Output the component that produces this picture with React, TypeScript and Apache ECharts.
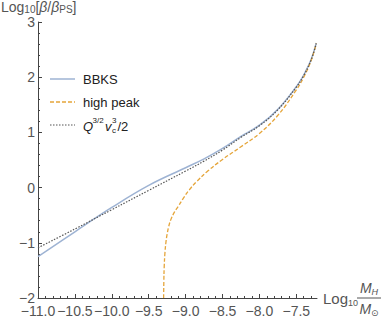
import React, { useEffect, useRef } from 'react';
import * as echarts from 'echarts';

const xMajor = [-11, -10.5, -10, -9.5, -9, -8.5, -8, -7.5];
const yMajor = [-2, -1, 0, 1, 2, 3];
const seriesNames = ['BBKS', 'high peak', 'Q'];

const bbks: [number, number][] = [
  [-11.0, -1.25], [-10.5, -0.8], [-10.0, -0.36], [-9.5, 0.04], [-9.0, 0.36],
  [-8.75, 0.52], [-8.5, 0.71], [-8.25, 0.93], [-8.0, 1.13], [-7.75, 1.42],
  [-7.5, 1.83], [-7.4, 2.04], [-7.3, 2.32], [-7.23, 2.62],
];
const highPeak: [number, number][] = [
  [-9.298, -2.0], [-9.295, -1.69], [-9.29, -1.43], [-9.28, -1.18], [-9.265, -0.97],
  [-9.25, -0.84], [-9.23, -0.71], [-9.2, -0.58], [-9.15, -0.44], [-9.1, -0.34],
  [-9.03, -0.19], [-8.95, -0.04], [-8.85, 0.11], [-8.7, 0.3], [-8.5, 0.51],
  [-8.25, 0.74], [-8.0, 0.98], [-7.75, 1.31], [-7.5, 1.77], [-7.4, 2.0],
  [-7.3, 2.3], [-7.23, 2.61],
];
const qv: [number, number][] = [
  [-11.0, -1.09], [-10.5, -0.75], [-10.0, -0.4], [-9.5, -0.05], [-9.0, 0.3],
  [-8.75, 0.48], [-8.5, 0.68], [-8.25, 0.91], [-8.0, 1.12], [-7.75, 1.41],
  [-7.5, 1.82], [-7.4, 2.03], [-7.3, 2.31], [-7.23, 2.61],
];

const xMinor: number[] = [];
for (let k = -110; k <= -73; k++) xMinor.push(k / 10);
const yMinor: number[] = [];
for (let k = -10; k <= 15; k++) yMinor.push(k / 5);

const FONT = 'Liberation Sans, Arial, DejaVu Sans, sans-serif';
const AX = '#444';
const LAB = '#555';
const C_BBKS = '#9EB3D3';
const C_HP = '#E5A53A';
const C_Q = '#555';

function fmtX(v: number) {
  const s = Math.abs(v).toFixed(1);
  return v < 0 ? '\u2212' + s : s;
}
function fmtY(v: number) {
  const s = String(Math.abs(Math.round(v)));
  return v < 0 ? '\u2212' + s : s;
}

export default function App() {
  const ref = useRef<HTMLDivElement>(null);
  useEffect(() => {
    document.body.style.margin = '0';
    const chart = echarts.init(ref.current!, null, { renderer: 'svg' });
    const xMin = -11, xMax = -7.22, yMin = -2, yMax = 3;
    const lineAxis = { show: true, onZero: false, lineStyle: { color: AX, width: 1 } };
    const txt = (x: number, y: number, text: string, size: number, italic = false) => ({
      type: 'text', x, y,
      style: { text, fontSize: size, fontFamily: FONT, fontStyle: italic ? 'italic' : 'normal', fill: '#222', verticalAlign: 'middle' },
    });
    chart.setOption({
      animation: false,
      grid: { left: 38, right: 65, top: 22, bottom: 21 },
      xAxis: [
        {
          type: 'value', min: xMin, max: xMax, position: 'bottom',
          axisLine: lineAxis,
          axisTick: { show: true, inside: true, length: 4, customValues: xMajor, lineStyle: { color: AX } },
          axisLabel: { customValues: xMajor, formatter: fmtX, color: LAB, fontSize: 14, fontFamily: FONT, margin: 7, lineHeight: 12 },
          splitLine: { show: false },
        },
        {
          type: 'value', min: xMin, max: xMax, position: 'bottom',
          axisLine: { show: false, onZero: false },
          axisTick: { show: true, inside: true, length: 2, customValues: xMinor, lineStyle: { color: AX } },
          axisLabel: { show: false },
          splitLine: { show: false },
        },
      ],
      yAxis: [
        {
          type: 'value', min: yMin, max: yMax, position: 'left',
          axisLine: lineAxis,
          axisTick: { show: true, inside: true, length: 4, customValues: yMajor, lineStyle: { color: AX } },
          axisLabel: { customValues: yMajor, formatter: fmtY, color: LAB, fontSize: 14, fontFamily: FONT, margin: 3, lineHeight: 10 },
          splitLine: { show: false },
        },
        {
          type: 'value', min: yMin, max: yMax, position: 'left',
          axisLine: { show: false, onZero: false },
          axisTick: { show: true, inside: true, length: 2, customValues: yMinor, lineStyle: { color: AX } },
          axisLabel: { show: false },
          splitLine: { show: false },
        },
      ],
      series: [
        {
          name: seriesNames[0], type: 'line', data: bbks, xAxisIndex: 0, yAxisIndex: 0,
          symbol: 'none', showSymbol: false, smooth: 0.4,
          lineStyle: { color: C_BBKS, width: 1.5, type: 'solid' },
        },
        {
          name: seriesNames[1], type: 'line', data: highPeak, xAxisIndex: 0, yAxisIndex: 0,
          symbol: 'none', showSymbol: false, smooth: 0.4,
          lineStyle: { color: C_HP, width: 1.3, type: [4, 2] },
        },
        {
          name: seriesNames[2], type: 'line', data: qv, xAxisIndex: 0, yAxisIndex: 0,
          symbol: 'none', showSymbol: false, smooth: 0.4,
          lineStyle: { color: C_Q, width: 1.2, type: [1.5, 1.5] },
        },
      ],
      graphic: [
        // legend
        { type: 'line', shape: { x1: 50, y1: 79, x2: 75, y2: 79 }, style: { stroke: C_BBKS, lineWidth: 1.5 } },
        txt(83, 79, 'BBKS', 13),
        { type: 'line', shape: { x1: 50, y1: 102, x2: 75, y2: 102 }, style: { stroke: C_HP, lineWidth: 1.3, lineDash: [4, 2] } },
        txt(83, 102, 'high peak', 13),
        { type: 'line', shape: { x1: 50, y1: 125, x2: 75, y2: 125 }, style: { stroke: C_Q, lineWidth: 1.2, lineDash: [1.5, 1.5] } },
        txt(83, 126, 'Q', 13, true),
        txt(92.5, 120, '3/2', 8),
        txt(105, 126, 'v', 13, true),
        txt(112, 130, 'c', 8),
        txt(112, 120, '3', 8),
        txt(117.5, 126, '/2', 13),
        // y-axis title
        {
          type: 'text', x: 1, y: -1,
          style: {
            text: '{a|Log}{s|10}{a|[}{b|β}{a|/}{b|β}{s|PS}{a|]}',
            rich: {
              a: { fontSize: 14, fontFamily: FONT, fill: LAB, lineHeight: 15 },
              b: { fontSize: 14, fontFamily: FONT, fontStyle: 'italic', fill: LAB, lineHeight: 15 },
              s: { fontSize: 10, fontFamily: FONT, fill: LAB, verticalAlign: 'bottom', lineHeight: 15 },
            },
          },
        },
        // x-axis title
        {
          type: 'text', x: 323, y: 298,
          style: {
            text: '{a|Log}{s|10}',
            verticalAlign: 'middle',
            rich: {
              a: { fontSize: 15, fontFamily: FONT, fill: LAB, lineHeight: 18 },
              s: { fontSize: 9, fontFamily: FONT, fill: LAB, verticalAlign: 'bottom', lineHeight: 18 },
            },
          },
        },
        {
          type: 'text', x: 369, y: 288,
          style: {
            text: '{a|M}{s|H}', align: 'center', verticalAlign: 'middle',
            rich: {
              a: { fontSize: 14, fontFamily: FONT, fontStyle: 'italic', fill: LAB, lineHeight: 16 },
              s: { fontSize: 9, fontFamily: FONT, fontStyle: 'italic', fill: LAB, verticalAlign: 'bottom', lineHeight: 16 },
            },
          },
        },
        {
          type: 'line', shape: { x1: 357, y1: 298, x2: 381, y2: 298 },
          style: { stroke: LAB, lineWidth: 1 },
        },
        {
          type: 'text', x: 369, y: 309,
          style: {
            text: '{a|M}{s|⊙}', align: 'center', verticalAlign: 'middle',
            rich: {
              a: { fontSize: 14, fontFamily: FONT, fontStyle: 'italic', fill: LAB, lineHeight: 16 },
              s: { fontSize: 9, fontFamily: 'DejaVu Sans, sans-serif', fill: LAB, verticalAlign: 'bottom', lineHeight: 16 },
            },
          },
        },
      ],
    });
    return () => chart.dispose();
  }, []);
  return <div ref={ref} style={{ width: 382, height: 319 }} />;
}
